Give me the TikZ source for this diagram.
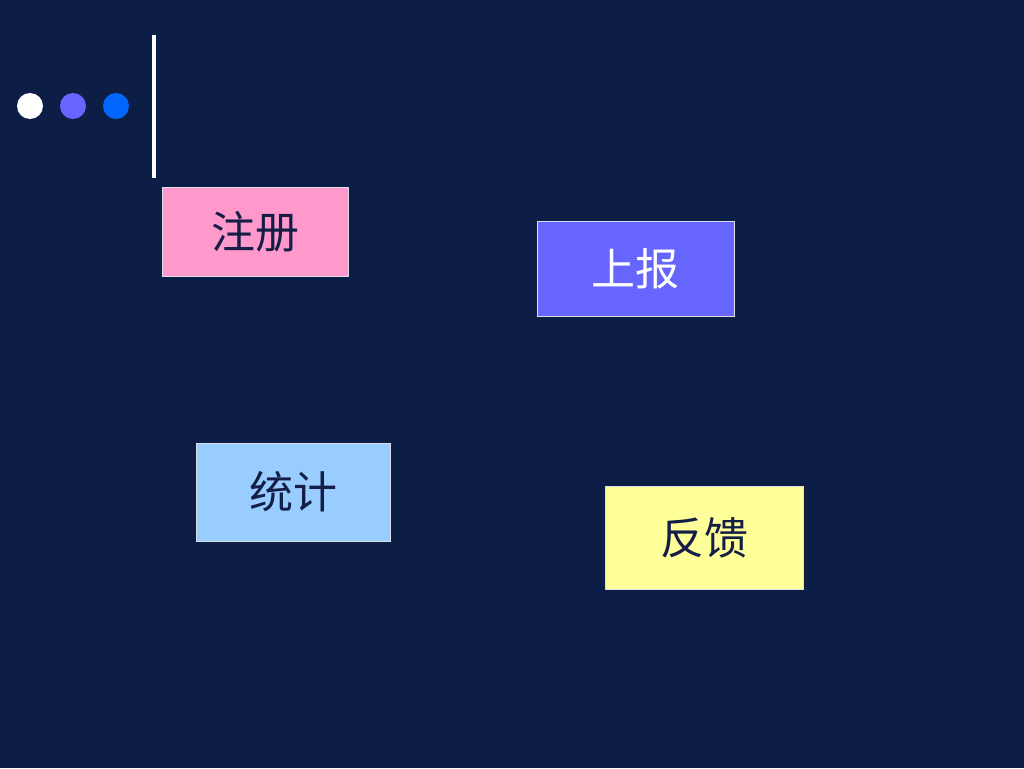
\documentclass[tikz,border=0pt]{standalone}
\usepackage{fontspec}
\newfontfamily\cjk{Noto Sans CJK SC}[FakeBold=0]
\definecolor{bg}{RGB}{12,30,70}
\definecolor{pinkbox}{RGB}{255,153,204}
\definecolor{purplebox}{RGB}{102,102,255}
\definecolor{bluebox}{RGB}{153,204,255}
\definecolor{yellowbox}{RGB}{255,255,153}
\definecolor{dotblue}{RGB}{0,102,255}
\definecolor{txtdark}{RGB}{20,30,70}
\definecolor{edge}{RGB}{220,220,235}
\tikzset{
  box/.style={draw=edge, line width=1pt, inner sep=0pt, font=\cjk\fontsize{44}{44}\selectfont},
  dot/.style={circle, inner sep=0pt, minimum size=26pt}
}
\begin{document}
\begin{tikzpicture}[x=1pt,y=-1pt]
\fill[bg] (0,0) rectangle (1024,768);
\useasboundingbox (0,0) rectangle (1024,768);
\node[dot, fill=white] (d1) at (30,106) {};
\node[dot, fill=purplebox] (d2) at (73,106) {};
\node[dot, fill=dotblue] (d3) at (116,106) {};
\coordinate (vt) at (153.5,35);
\coordinate (vb) at (153.5,178);
\draw[white, line width=4pt] (vt) -- (vb);
\node[box, fill=pinkbox, text=txtdark, minimum width=186pt, minimum height=89pt] (reg) at (255,231.5) {注册};
\node[box, fill=purplebox, text=white, minimum width=197pt, minimum height=95pt] (rep) at (635.5,268.5) {上报};
\node[box, fill=bluebox, text=txtdark, minimum width=194pt, minimum height=98pt] (sta) at (293,492) {统计};
\node[box, fill=yellowbox, text=txtdark, minimum width=198pt, minimum height=103pt] (fb) at (704,537.5) {反馈};
\end{tikzpicture}
\end{document}
